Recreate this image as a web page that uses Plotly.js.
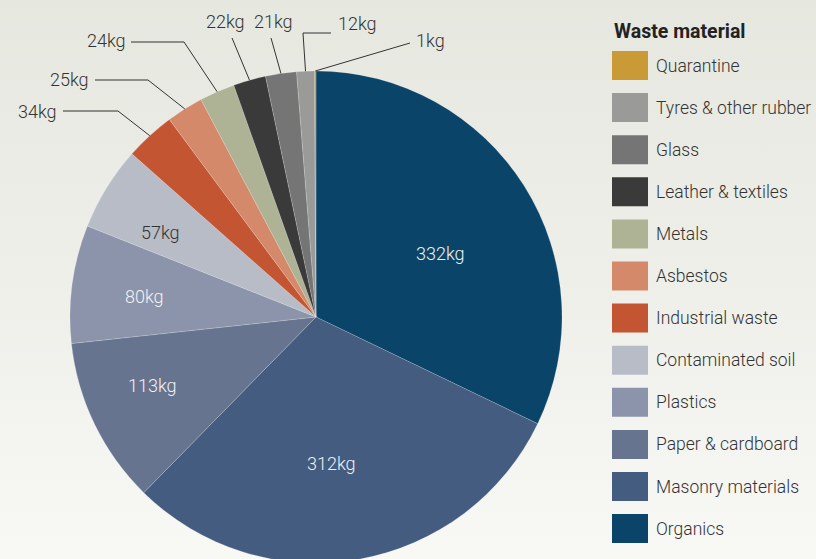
<!DOCTYPE html>
<html>
<head>
<meta charset="utf-8">
<script src="https://cdn.plot.ly/plotly-3.0.1.min.js"></script>
<style>
html,body{margin:0;padding:0;overflow:hidden;width:816px;height:559px;
background:linear-gradient(180deg,#e6e7df 0%,#eeefe9 50%,#f8f8f5 100%);}
#chart{width:816px;height:580px;}
</style>
</head>
<body>
<div id="chart"></div>
<script>
// ---- data ----
const materials = ["Organics","Masonry materials","Paper & cardboard","Plastics","Contaminated soil",
  "Industrial waste","Asbestos","Metals","Leather & textiles","Glass","Tyres & other rubber","Quarantine"];
const weightsKg = [332,312,113,80,57,34,25,24,22,21,12,1];
const legendTitle = "Waste material";

// ---- style ----
const colors = ["#0a4468","#435c80","#66748f","#8b94aa","#b8bcc7","#c45532","#d48a6a","#adb394",
  "#3a3a3a","#757575","#9a9a98","#c99a35"];
const FONT = "Roboto,'Liberation Sans',sans-serif";
const FS = 17.5;
const FW = 300;
const W = 816, H = 580;
const CX = 316, CY = 317, R = 246;
// inside label placement: radius fraction, angle offset, colour
const insideStyle = {
  0:{rf:0.57, da:5, color:"#f2f2f2"},
  1:{rf:0.60, da:4, color:"#f2f2f2"},
  2:{rf:0.72, da:3, color:"#f2f2f2"},
  3:{rf:0.70, da:-1, color:"#f2f2f2"},
  4:{rf:0.72, da:-3, color:"#333333"}
};
// outside label leader paths (pixel waypoints after edge point) and label anchor
const outsideStyle = {
  5:{pts:[[118,111],[63,111]], lx:59, ly:111, xa:"right"},
  6:{pts:[[148,80],[95,80]], lx:91, ly:79, xa:"right"},
  7:{pts:[[184,42],[131,42]], lx:128, ly:41, xa:"right"},
  8:{pts:[[232,38]], lx:225, ly:22, xa:"center"},
  9:{pts:[[271,38]], lx:273, ly:22, xa:"center"},
  10:{pts:[[303,33],[331,33]], lx:336, ly:23, xa:"left"},
  11:{pts:[[410,43]], lx:414, ly:40, xa:"left"}
};

const px = x => x / W;
const py = y => 1 - y / H;

const total = weightsKg.reduce((a,b)=>a+b,0);
const annotations = [];
const shapes = [];
let cum = 0;
weightsKg.forEach((v,i)=>{
  const midDeg = (cum + v/2) / total * 360;
  cum += v;
  const label = v + "kg";
  if (insideStyle[i]) {
    const s = insideStyle[i];
    const a = (midDeg + s.da) * Math.PI/180;
    const x = CX + R*s.rf*Math.sin(a), y = CY - R*s.rf*Math.cos(a);
    annotations.push({xref:"paper",yref:"paper",x:px(x),y:py(y),text:label,showarrow:false,
      xanchor:"center",yanchor:"middle",font:{family:FONT,size:18,weight:FW,color:s.color}});
  } else if (outsideStyle[i]) {
    const s = outsideStyle[i];
    const a = midDeg * Math.PI/180;
    let prev = [CX + R*Math.sin(a), CY - R*Math.cos(a)];
    s.pts.forEach(p=>{
      shapes.push({type:"line",xref:"paper",yref:"paper",x0:px(prev[0]),y0:py(prev[1]),
        x1:px(p[0]),y1:py(p[1]),line:{color:"#333333",width:1}});
      prev = p;
    });
    annotations.push({xref:"paper",yref:"paper",x:px(s.lx),y:py(s.ly),text:label,showarrow:false,
      xanchor:s.xa,yanchor:"middle",font:{family:FONT,size:18,weight:FW,color:"#333333"}});
  }
});

// manual legend (reversed order: Quarantine on top)
annotations.push({xref:"paper",yref:"paper",x:px(612),y:py(31),text:"<b>"+legendTitle+"</b>",
  showarrow:false,xanchor:"left",yanchor:"middle",font:{family:FONT,size:19.5,color:"#222222"}});
const order = materials.map((m,i)=>i).reverse();
order.forEach((idx,k)=>{
  const top = 51 + k*42.1;
  shapes.push({type:"rect",xref:"paper",yref:"paper",x0:px(612),x1:px(648),y0:py(top),y1:py(top+29),
    fillcolor:colors[idx],line:{width:0}});
  annotations.push({xref:"paper",yref:"paper",x:px(654),y:py(top+14.5),text:materials[idx],
    showarrow:false,xanchor:"left",yanchor:"middle",font:{family:FONT,size:FS,weight:FW,color:"#333333"}});
});

const trace = {
  type:"pie",
  labels:materials,
  values:weightsKg,
  sort:false,
  direction:"clockwise",
  rotation:0,
  textinfo:"none",
  hoverinfo:"label+value",
  marker:{colors:colors,line:{color:"rgba(255,255,255,0.35)",width:0.5}},
  domain:{x:[(CX-R)/W,(CX+R)/W],y:[1-(CY+R)/H,1-(CY-R)/H]},
  showlegend:false
};

Plotly.newPlot("chart",[trace],{
  width:W,height:H,
  margin:{l:0,r:0,t:0,b:0},
  paper_bgcolor:"rgba(0,0,0,0)",
  plot_bgcolor:"rgba(0,0,0,0)",
  showlegend:false,
  font:{family:FONT},
  annotations:annotations,
  shapes:shapes
},{displayModeBar:false,staticPlot:true});
</script>
</body>
</html>
